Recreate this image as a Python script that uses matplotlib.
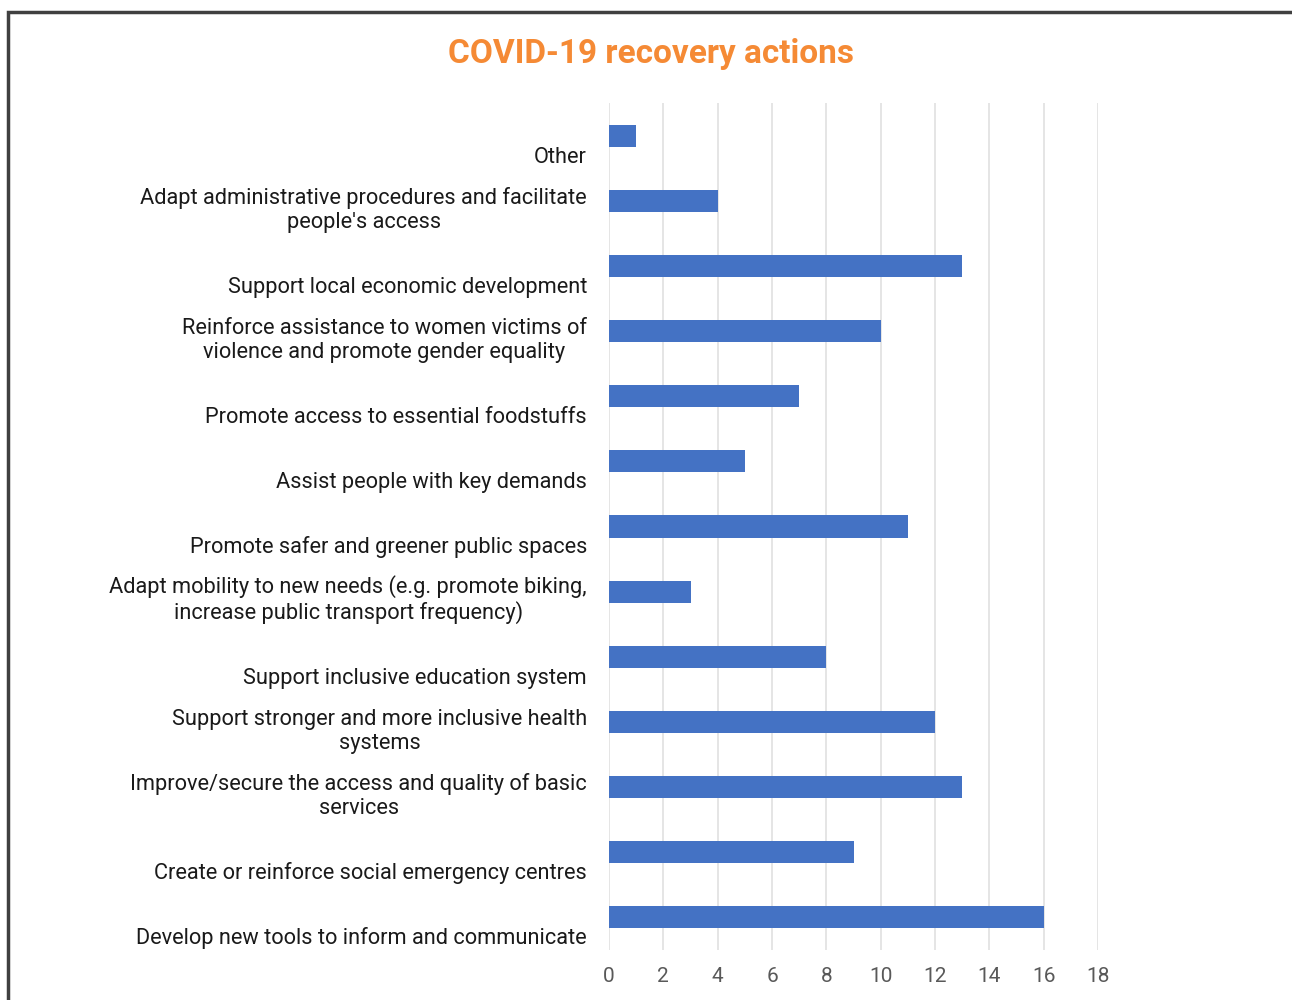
import matplotlib.pyplot as plt
from matplotlib.patches import Rectangle

# categories listed bottom to top
categories = [
    "Develop new tools to inform and communicate",
    "Create or reinforce social emergency centres",
    "Improve/secure the access and quality of basic\nservices",
    "Support stronger and more inclusive health\nsystems",
    "Support inclusive education system",
    "Adapt mobility to new needs (e.g. promote biking,\nincrease public transport frequency)",
    "Promote safer and greener public spaces",
    "Assist people with key demands",
    "Promote access to essential foodstuffs",
    "Reinforce assistance to women victims of\nviolence and promote gender equality",
    "Support local economic development",
    "Adapt administrative procedures and facilitate\npeople's access",
    "Other",
]
counts = [16, 9, 13, 12, 8, 3, 11, 5, 7, 10, 13, 4, 1]
xticks = [0, 2, 4, 6, 8, 10, 12, 14, 16, 18]

plt.rcParams['font.family'] = ['Roboto', 'DejaVu Sans']

fig = plt.figure(figsize=(12.92, 10), dpi=100)
ax = fig.add_axes([609/1292, 0.05, 489/1292, 0.847])

ypos = list(range(len(categories)))
ax.barh(ypos, counts, height=0.34, color='#4472C4', zorder=3)

ax.set_xlim(0, 18)
ax.set_ylim(-0.5, len(categories) - 0.5)
ax.set_xticks(xticks)
ax.set_xticklabels([str(t) for t in xticks], color='#595959', fontsize=15)
ax.tick_params(axis='x', length=0, pad=12)
ax.set_yticks([])
ax.grid(axis='x', color='#E0E0E0', linewidth=1.2, zorder=0)
for s in ax.spines.values():
    s.set_visible(False)

# category labels sit a bit below their bars
for y, lab in zip(ypos, categories):
    ax.annotate(lab, xy=(0, y), xycoords=('axes fraction', 'data'),
                xytext=(-22, -32), textcoords='offset pixels',
                ha='right', va='bottom', multialignment='center',
                fontsize=15.7, color='#1a1a1a', linespacing=1.17)

fig.text(651/1292, 1 - 54/1000, "COVID-19 recovery actions", ha='center', va='center',
         fontsize=24, fontweight='bold', color='#F58A35')

# outer frame
fig.patches.append(Rectangle((8/1292, -0.1), 1.2, 1 - 12/1000 + 0.1, transform=fig.transFigure,
                             fill=False, edgecolor='#404040', linewidth=2.5))

fig.savefig('out.png', dpi=100)
